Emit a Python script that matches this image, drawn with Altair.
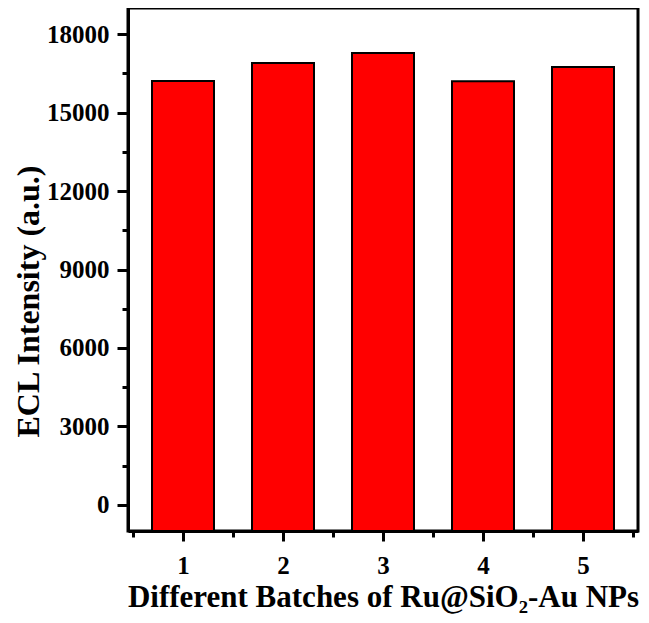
import altair as alt
import pandas as pd

batches = [1, 2, 3, 4, 5]
intensity = [16210, 16900, 17280, 16200, 16740]
y_min, y_max = -1000, 19000
y_major = [0, 3000, 6000, 9000, 12000, 15000, 18000]
y_minor = [1500, 4500, 7500, 10500, 13500, 16500]
x_major = [1, 2, 3, 4, 5]
x_minor = [0.5, 1.5, 2.5, 3.5, 4.5, 5.5]

df = pd.DataFrame({"batch": batches, "value": intensity})
df["base"] = y_min

FONT = "Liberation Serif"

xscale = alt.Scale(domain=[0.5, 5.5], nice=False, zero=False)
yscale = alt.Scale(domain=[y_min, y_max], nice=False, zero=False)

bars = alt.Chart(df).mark_bar(
    size=62, color="#FF0000", stroke="black", strokeWidth=2
).encode(
    x=alt.X("batch:Q", scale=xscale,
            axis=alt.Axis(values=x_major, orient="bottom", format="d",
                          title="Different Batches of Ru@SiO\u2082-Au NPs",
                          titleFontSize=31, titleFont=FONT, titleFontWeight="bold",
                          titleColor="black", titlePadding=4,
                          labelFont=FONT, labelFontSize=25, labelFontWeight="bold",
                          labelColor="black", labelPadding=12,
                          tickSize=10, tickWidth=3, tickColor="black",
                          domainColor="black", domainWidth=3, grid=False)),
    y=alt.Y("value:Q", scale=yscale,
            axis=alt.Axis(values=y_major, orient="left", format="d",
                          title="ECL Intensity (a.u.)",
                          titleFontSize=32, titleFont=FONT, titleFontWeight="bold",
                          titleColor="black", titlePadding=1, titleY=293,
                          labelFont=FONT, labelFontSize=25, labelFontWeight="bold",
                          labelColor="black", labelPadding=8,
                          tickSize=11, tickWidth=3, tickColor="black",
                          domainColor="black", domainWidth=3, grid=False)),
    y2="base:Q",
)

minor = alt.Chart(df).mark_point(opacity=0).encode(
    x=alt.X("batch:Q", scale=xscale,
            axis=alt.Axis(values=x_minor, orient="bottom", labels=False, title="",
                          tickSize=6, tickWidth=3, tickColor="black",
                          domain=False, grid=False)),
    y=alt.Y("value:Q", scale=yscale,
            axis=alt.Axis(values=y_minor, orient="left", labels=False, title="",
                          tickSize=6, tickWidth=3, tickColor="black",
                          domain=False, grid=False)),
)

chart = alt.layer(bars, minor).resolve_axis(
    x="independent", y="independent"
).properties(
    width=510, height=523,
    autosize=alt.AutoSizeParams(type="none"),
    padding={"left": 120, "top": 0, "right": 3, "bottom": 84},
).configure_view(stroke="black", strokeWidth=3)

chart.save("out.html", embed_options={"renderer": "svg", "actions": False})
